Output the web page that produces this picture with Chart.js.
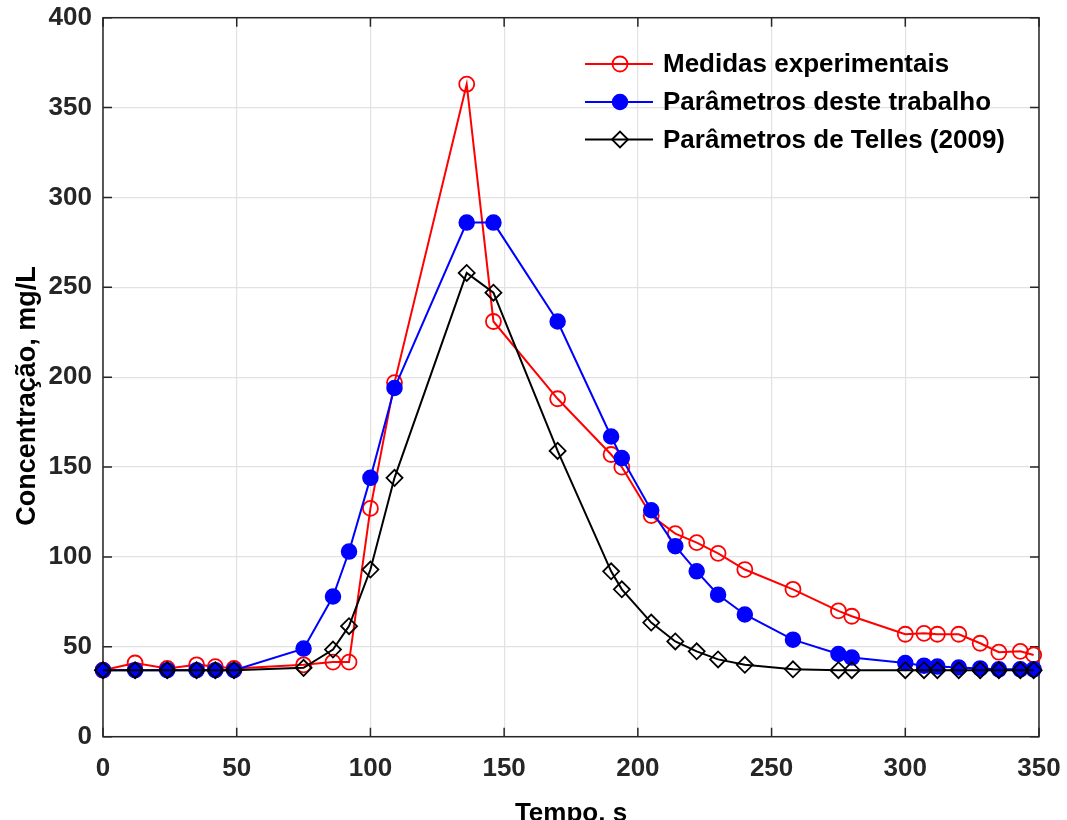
<!DOCTYPE html>
<html lang="pt">
<head>
<meta charset="UTF-8" />
<script src="https://cdn.jsdelivr.net/npm/chart.js"></script>
<title>Concentração</title>
<style>
    body { margin: 0; background: #fff; }
    .grafico { width: 1067px; height: 820px; }
</style>
</head>
<body>
<div class="grafico"><canvas id="myChart" width="1067" height="820"></canvas></div>
<script>
// tempo (s) de cada ponto, igual para as tres curvas
var tempos = [0, 12, 24, 35, 42, 49, 75, 86, 92, 100, 109, 136, 146, 170, 190, 194,
              205, 214, 222, 230, 240, 258, 275, 280, 300, 307, 312, 320, 328, 335, 343, 348];
var medidas = [37, 41, 38, 40, 39, 38, 40, 41.5, 41.5, 127, 197, 363, 231, 188, 157, 150,
               123, 113, 108, 102, 93, 82, 70, 67, 57, 57.5, 57, 57, 52, 47, 47.5, 45.5];
var parametrosTrabalho = [37, 37, 37, 37, 37, 37, 49, 78, 103, 144, 194, 286, 286, 231, 167, 155,
                          126, 106, 92, 79, 68, 54, 46, 44, 41, 39.5, 39, 38.5, 38, 37.5, 37.5, 37.5];
var parametrosTelles = [37, 37, 37, 37, 37, 37, 38.3, 48.5, 61.5, 93, 144, 258, 247, 159, 92, 82,
                        63.5, 53, 47.5, 43, 40, 37.5, 37, 37, 37, 37, 37, 37, 37, 37, 37, 37];
var nomes = ["Medidas experimentais", "Parâmetros deste trabalho", "Parâmetros de Telles (2009)"];
var tituloX = "Tempo, s";
var tituloY = "Concentração, mg/L";
var ticksX = [0, 50, 100, 150, 200, 250, 300, 350];
var ticksY = [0, 50, 100, 150, 200, 250, 300, 350, 400];

var fonte = "'Liberation Sans', Arial, Helvetica, sans-serif";
var corEixo = "#262626";

function pontos(valores) {
    var lista = [];
    for (var i = 0; i < tempos.length; i++) {
        lista.push({ x: tempos[i], y: valores[i] });
    }
    return lista;
}

// caixa em volta do grafico com ticks para dentro (estilo matlab)
var caixa = {
    id: "caixa",
    beforeDatasetsDraw: function (chart) {
        var ctx = chart.ctx;
        var a = chart.chartArea;
        var sx = chart.scales.x, sy = chart.scales.y;
        var tam = 9;
        ctx.save();
        ctx.strokeStyle = corEixo;
        ctx.lineWidth = 1.5;
        ctx.strokeRect(a.left, a.top, a.right - a.left, a.bottom - a.top);
        ctx.beginPath();
        ticksX.forEach(function (v) {
            var px = sx.getPixelForValue(v);
            ctx.moveTo(px, a.bottom); ctx.lineTo(px, a.bottom - tam);
            ctx.moveTo(px, a.top); ctx.lineTo(px, a.top + tam);
        });
        ticksY.forEach(function (v) {
            var py = sy.getPixelForValue(v);
            ctx.moveTo(a.left, py); ctx.lineTo(a.left + tam, py);
            ctx.moveTo(a.right, py); ctx.lineTo(a.right - tam, py);
        });
        ctx.stroke();

        // titulo do eixo y, um pouco abaixo do centro como no original
        ctx.fillStyle = "#000";
        ctx.font = "bold 27px " + fonte;
        ctx.textAlign = "center";
        ctx.textBaseline = "middle";
        ctx.translate(28, 396);
        ctx.rotate(-Math.PI / 2);
        ctx.fillText(tituloY, 0, 0);
        ctx.restore();
    }
};

// legenda sem moldura dentro da area do grafico
var legenda = {
    id: "legenda",
    afterDraw: function (chart) {
        var ctx = chart.ctx;
        var linhasY = [64, 102, 139.5];
        ctx.save();
        chart.data.datasets.forEach(function (ds, i) {
            var y = linhasY[i];
            ctx.strokeStyle = ds.borderColor;
            ctx.lineWidth = ds.borderWidth;
            ctx.beginPath();
            ctx.moveTo(585, y);
            ctx.lineTo(653, y);
            ctx.stroke();
            ctx.fillStyle = ds.pointBackgroundColor;
            ctx.strokeStyle = ds.pointBorderColor;
            ctx.lineWidth = ds.pointBorderWidth;
            Chart.helpers.drawPoint(ctx, {
                pointStyle: ds.pointStyle,
                radius: ds.pointRadius,
                rotation: 0,
                borderWidth: ds.pointBorderWidth
            }, 620, y);
            ctx.fillStyle = "#000";
            ctx.font = "bold 26px " + fonte;
            ctx.textAlign = "left";
            ctx.textBaseline = "middle";
            ctx.fillText(ds.label, 663, y + 1);
        });
        ctx.restore();
    }
};

var ctx = document.getElementById("myChart");

var chart = new Chart(ctx, {
    type: "line",
    data: {
        datasets: [
            {
                label: nomes[0],
                data: pontos(medidas),
                borderColor: "#ff0000",
                borderWidth: 2,
                pointStyle: "circle",
                pointRadius: 7.5,
                pointBorderWidth: 1.8,
                pointBorderColor: "#ff0000",
                pointBackgroundColor: "rgba(0,0,0,0)",
                order: 3,
                clip: false
            },
            {
                label: nomes[1],
                data: pontos(parametrosTrabalho),
                borderColor: "#0000ff",
                borderWidth: 2,
                pointStyle: "circle",
                pointRadius: 7.5,
                pointBorderWidth: 1.5,
                pointBorderColor: "#0000ff",
                pointBackgroundColor: "#0000ff",
                order: 2,
                clip: false
            },
            {
                label: nomes[2],
                data: pontos(parametrosTelles),
                borderColor: "#000000",
                borderWidth: 2,
                pointStyle: "rectRot",
                pointRadius: 8,
                pointBorderWidth: 1.8,
                pointBorderColor: "#000000",
                pointBackgroundColor: "rgba(0,0,0,0)",
                order: 1,
                clip: false
            }
        ]
    },
    options: {
        responsive: false,
        animation: false,
        devicePixelRatio: 1,
        layout: { padding: { left: 0, right: 28, top: 17.7, bottom: 0 } },
        plugins: {
            legend: { display: false },
            tooltip: { enabled: false }
        },
        scales: {
            x: {
                type: "linear",
                min: 0,
                max: 350,
                afterBuildTicks: function (scale) {
                    scale.ticks = ticksX.map(function (v) { return { value: v }; });
                },
                afterFit: function (scale) {
                    scale.height = 83.3;
                    scale.paddingLeft = 0;
                    scale.paddingRight = 0;
                },
                ticks: {
                    color: corEixo,
                    font: { family: fonte, size: 26, weight: "bold" },
                    padding: 17,
                    maxRotation: 0
                },
                grid: { color: "#e2e2e2", lineWidth: 1.2, drawTicks: false },
                border: { display: false },
                title: {
                    display: true,
                    text: tituloX,
                    color: "#000",
                    font: { family: fonte, size: 26, weight: "bold" },
                    padding: { top: 0, bottom: -9.5 }
                }
            },
            y: {
                type: "linear",
                min: 0,
                max: 400,
                afterBuildTicks: function (scale) {
                    scale.ticks = ticksY.map(function (v) { return { value: v }; });
                },
                afterFit: function (scale) {
                    scale.width = 103;
                    scale.paddingTop = 0;
                    scale.paddingBottom = 0;
                },
                ticks: {
                    color: corEixo,
                    font: { family: fonte, size: 26, weight: "bold" },
                    padding: 11
                },
                grid: { color: "#e2e2e2", lineWidth: 1.2, drawTicks: false },
                border: { display: false },
                title: { display: false }
            }
        }
    },
    plugins: [caixa, legenda]
});
</script>
</body>
</html>
